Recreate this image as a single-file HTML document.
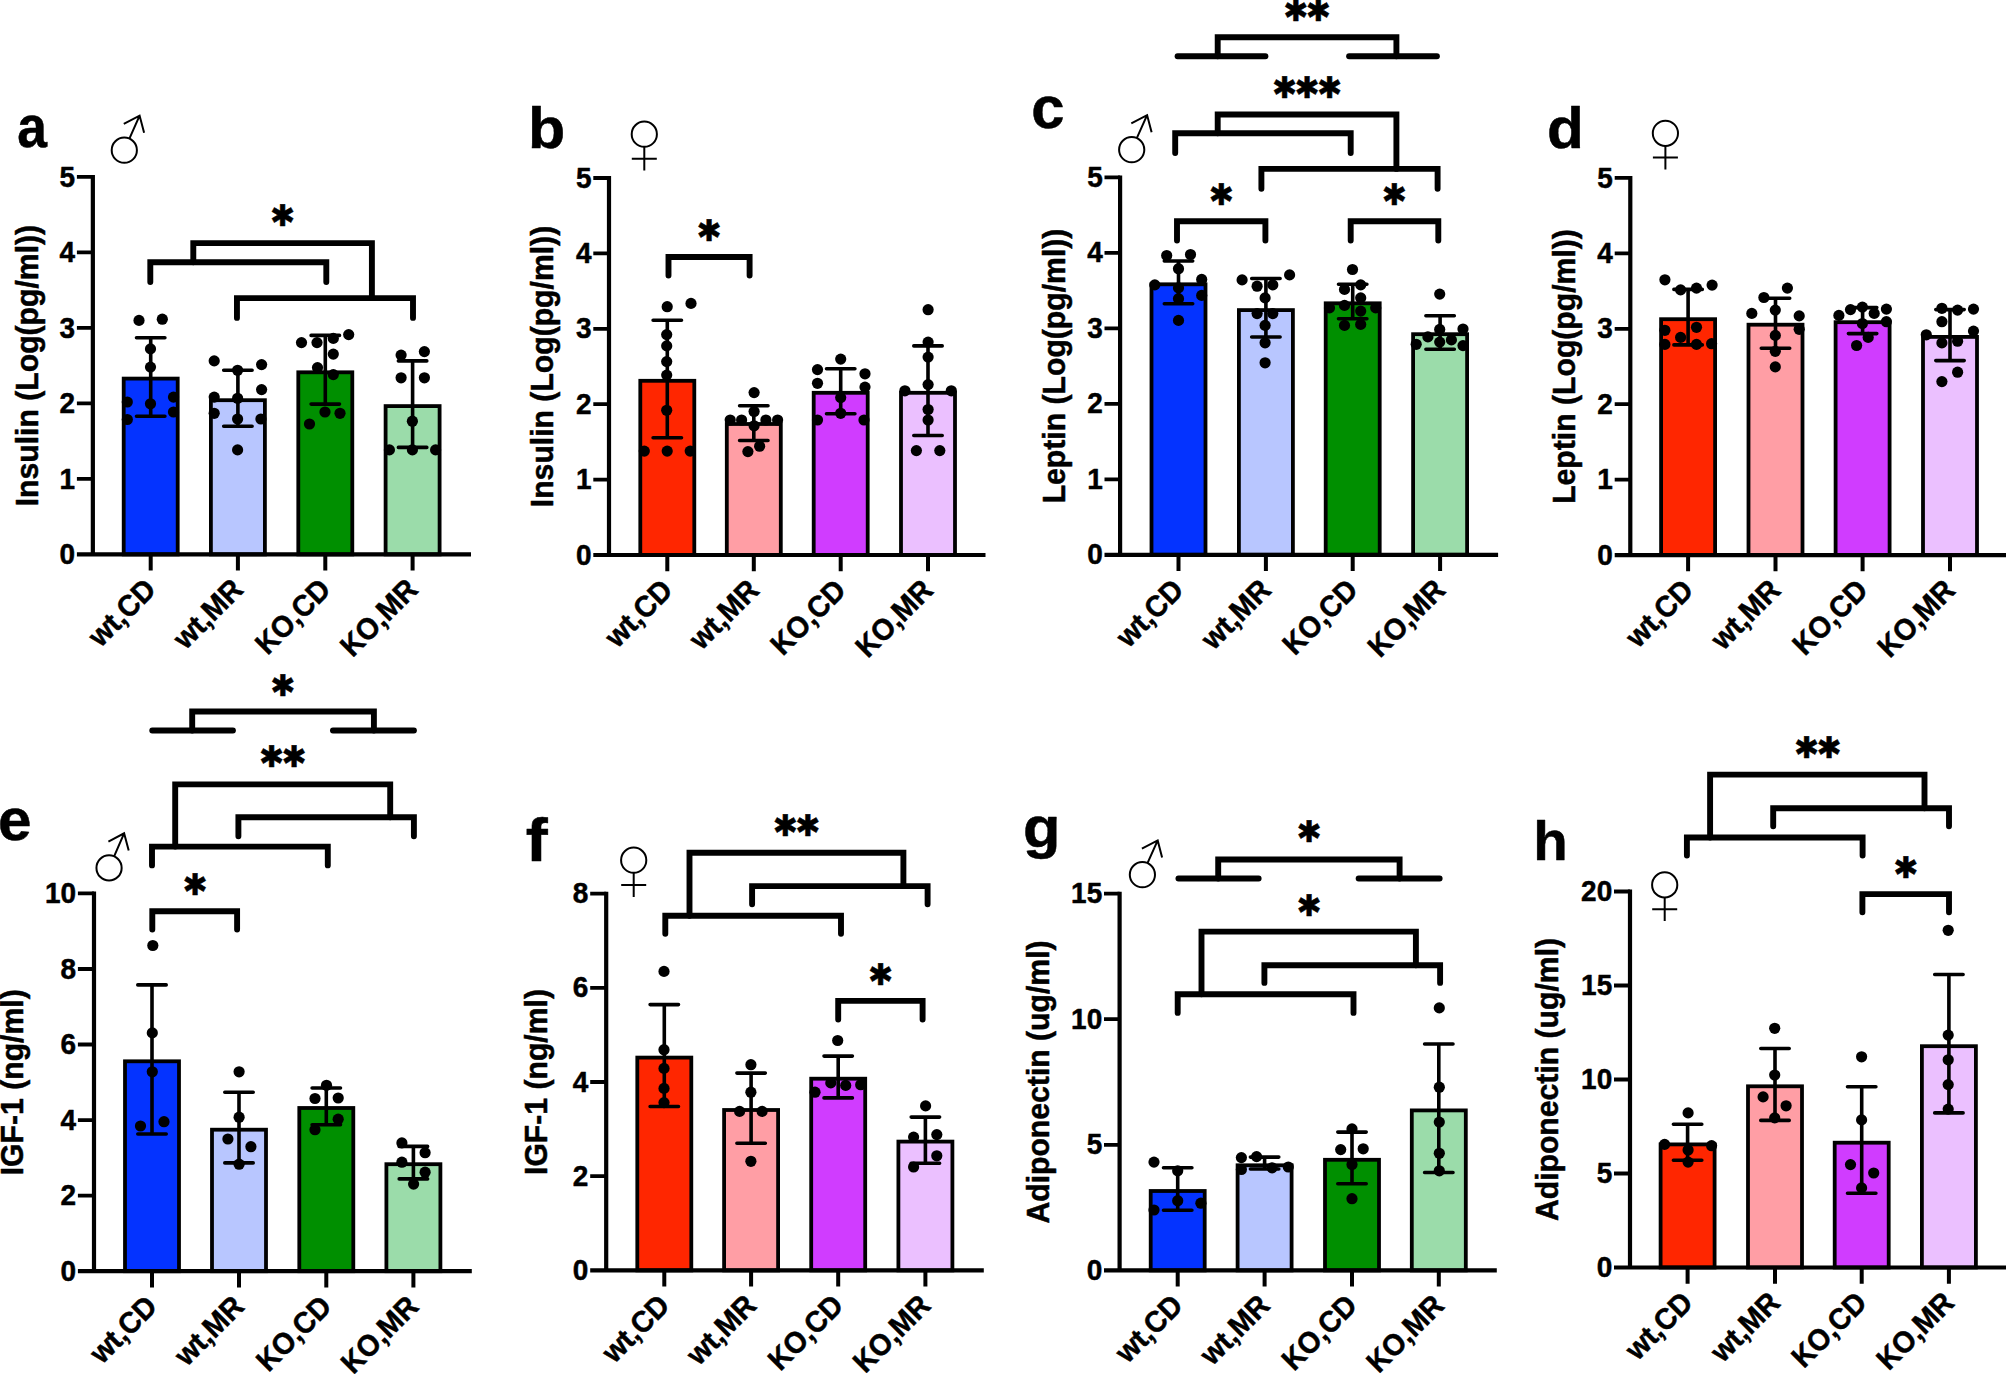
<!DOCTYPE html>
<html lang="en"><head><meta charset="utf-8"><title>Figure: hormone levels (panels a–h)</title>
<style>
html,body{margin:0;padding:0;background:#fff}
body{width:2006px;height:1374px;overflow:hidden}
svg{display:block;font-family:"Liberation Sans",sans-serif;font-weight:700;fill:#000}
text{stroke:#000;stroke-width:.5px;stroke-linejoin:round}
.bar{stroke:#000;stroke-width:3.8}
.axis{fill:none;stroke:#000;stroke-width:4.2;stroke-linecap:butt}
.tick{fill:none;stroke:#000;stroke-width:3.8}
.xtick{fill:none;stroke:#000;stroke-width:4}
.err{fill:none;stroke:#000;stroke-width:3.6;stroke-linecap:round}
.br{fill:none;stroke:#000;stroke-width:5.9;stroke-linecap:round;stroke-linejoin:miter}
.dot{fill:#000}
.tl{font-size:29.3px;text-anchor:end}
.xl{font-size:29.8px;text-anchor:end}
.yt{font-size:31.6px;text-anchor:middle}
.pl{font-size:58.5px}
.st{font-family:"DejaVu Sans",sans-serif;font-weight:400;font-size:30px}
.sx circle,.sx path{fill:none;stroke:#000;stroke-width:2}
</style></head>
<body>
<svg width="2006" height="1374" viewBox="0 0 2006 1374">
<rect width="100%" height="100%" fill="#fff"/>
<g id="panel-a">
<rect class="bar" x="123.7" y="378.6" width="54.0" height="175.8" fill="#0433ff"/>
<rect class="bar" x="210.9" y="400.2" width="54.0" height="154.2" fill="#b8c6ff"/>
<rect class="bar" x="298.3" y="372.3" width="54.0" height="182.1" fill="#008f00"/>
<rect class="bar" x="385.6" y="406.1" width="54.0" height="148.3" fill="#9bdcaa"/>
<path class="axis" d="M92.85 175.0V556.5M76.9 554.4H471.0"/>
<path class="tick" d="M76.9 478.9H92.85M76.9 403.4H92.85M76.9 327.9H92.85M76.9 252.4H92.85M76.9 176.9H92.85"/>
<path class="xtick" d="M150.7 554.4V570.6M237.9 554.4V570.6M325.3 554.4V570.6M412.6 554.4V570.6"/>
<text class="tl" transform="translate(75.1 564.0) scale(0.955 1)">0</text>
<text class="tl" transform="translate(75.1 488.5) scale(0.955 1)">1</text>
<text class="tl" transform="translate(75.1 413.0) scale(0.955 1)">2</text>
<text class="tl" transform="translate(75.1 337.5) scale(0.955 1)">3</text>
<text class="tl" transform="translate(75.1 262.0) scale(0.955 1)">4</text>
<text class="tl" transform="translate(75.1 186.5) scale(0.955 1)">5</text>
<path class="err" d="M150.7 337.7V416.2M136.5 337.7h28.4M136.5 416.2h28.4M237.9 370.3V426.3M223.7 370.3h28.4M223.7 426.3h28.4M325.3 335.4V404.1M311.1 335.4h28.4M311.1 404.1h28.4M412.6 360.9V447.4M398.4 360.9h28.4M398.4 447.4h28.4"/>
<circle class="dot" cx="139.0" cy="320.4" r="5.6"/>
<circle class="dot" cx="162.3" cy="319.2" r="5.6"/>
<circle class="dot" cx="150.5" cy="348.9" r="5.6"/>
<circle class="dot" cx="150.5" cy="367.1" r="5.6"/>
<circle class="dot" cx="127.3" cy="402.0" r="5.6"/>
<circle class="dot" cx="150.5" cy="403.8" r="5.6"/>
<circle class="dot" cx="173.5" cy="397.1" r="5.6"/>
<circle class="dot" cx="173.5" cy="412.0" r="5.6"/>
<circle class="dot" cx="127.3" cy="419.5" r="5.6"/>
<circle class="dot" cx="214.2" cy="360.9" r="5.6"/>
<circle class="dot" cx="261.6" cy="364.6" r="5.6"/>
<circle class="dot" cx="237.6" cy="370.3" r="5.6"/>
<circle class="dot" cx="261.6" cy="389.6" r="5.6"/>
<circle class="dot" cx="214.2" cy="397.1" r="5.6"/>
<circle class="dot" cx="237.6" cy="398.3" r="5.6"/>
<circle class="dot" cx="214.2" cy="413.3" r="5.6"/>
<circle class="dot" cx="237.6" cy="419.0" r="5.6"/>
<circle class="dot" cx="260.9" cy="419.0" r="5.6"/>
<circle class="dot" cx="237.6" cy="449.9" r="5.6"/>
<circle class="dot" cx="301.5" cy="342.6" r="5.6"/>
<circle class="dot" cx="317.0" cy="342.6" r="5.6"/>
<circle class="dot" cx="333.3" cy="338.4" r="5.6"/>
<circle class="dot" cx="348.7" cy="334.6" r="5.6"/>
<circle class="dot" cx="333.3" cy="354.1" r="5.6"/>
<circle class="dot" cx="317.5" cy="367.6" r="5.6"/>
<circle class="dot" cx="333.3" cy="374.6" r="5.6"/>
<circle class="dot" cx="325.0" cy="412.0" r="5.6"/>
<circle class="dot" cx="340.0" cy="413.3" r="5.6"/>
<circle class="dot" cx="309.5" cy="424.0" r="5.6"/>
<circle class="dot" cx="401.1" cy="355.1" r="5.6"/>
<circle class="dot" cx="424.4" cy="351.6" r="5.6"/>
<circle class="dot" cx="401.1" cy="377.8" r="5.6"/>
<circle class="dot" cx="424.4" cy="377.8" r="5.6"/>
<circle class="dot" cx="412.4" cy="421.2" r="5.6"/>
<circle class="dot" cx="389.4" cy="449.9" r="5.6"/>
<circle class="dot" cx="412.4" cy="449.9" r="5.6"/>
<circle class="dot" cx="435.6" cy="449.9" r="5.6"/>
<path class="br" d="M193.3 262.3V243.1H371.9V298.1"/>
<path class="br" d="M150.3 282.1V262.3H326.3V282.1"/>
<path class="br" d="M236.95 317.9V298.1H413V317.9"/>
<text class="st" x="270.1" y="226.0" letter-spacing="-2.64">✱</text>
<text class="xl" transform="translate(157.6 591.3) rotate(-45) scale(0.955 1)">wt,CD</text>
<text class="xl" transform="translate(244.8 591.3) rotate(-45) scale(0.955 1)">wt,MR</text>
<text class="xl" transform="translate(332.2 591.3) rotate(-45) scale(0.955 1)">KO,CD</text>
<text class="xl" transform="translate(419.5 591.3) rotate(-45) scale(0.955 1)">KO,MR</text>
<text class="yt" transform="translate(38.3 365.6) rotate(-90) scale(0.955 1)">Insulin (Log(pg/ml))</text>
<text class="pl" style="font-size:58.8px" transform="translate(17.2 147.3) scale(0.909 1)">a</text>
<g class="sx" role="img" aria-label="male ♂"><circle cx="124.3" cy="150.2" r="12.6"/><path d="M129.4 138.7L139.6 115.6M123.8 123.9L139.6 115.6L144.1 132.8"/></g>
</g>
<g id="panel-b">
<rect class="bar" x="640.3" y="380.8" width="54.0" height="174.2" fill="#ff2600"/>
<rect class="bar" x="726.8" y="424.0" width="54.0" height="131.0" fill="#ff9ea5"/>
<rect class="bar" x="813.7" y="392.8" width="54.0" height="162.2" fill="#d03cff"/>
<rect class="bar" x="901.0" y="392.8" width="54.0" height="162.2" fill="#ebc0ff"/>
<path class="axis" d="M609 176.1V557.1M593.3 555H985.5"/>
<path class="tick" d="M593.3 479.6H609M593.3 404.2H609M593.3 328.8H609M593.3 253.4H609M593.3 178.0H609"/>
<path class="xtick" d="M667.3 555V571.2M753.8 555V571.2M840.7 555V571.2M928.0 555V571.2"/>
<text class="tl" transform="translate(591.5 564.6) scale(0.955 1)">0</text>
<text class="tl" transform="translate(591.5 489.2) scale(0.955 1)">1</text>
<text class="tl" transform="translate(591.5 413.8) scale(0.955 1)">2</text>
<text class="tl" transform="translate(591.5 338.4) scale(0.955 1)">3</text>
<text class="tl" transform="translate(591.5 263.0) scale(0.955 1)">4</text>
<text class="tl" transform="translate(591.5 187.6) scale(0.955 1)">5</text>
<path class="err" d="M667.3 320.2V437.7M653.1 320.2h28.4M653.1 437.7h28.4M753.8 405.7V440.5M739.6 405.7h28.4M739.6 440.5h28.4M840.7 368.8V413.8M826.5 368.8h28.4M826.5 413.8h28.4M928.0 345.9V435.5M913.8 345.9h28.4M913.8 435.5h28.4"/>
<circle class="dot" cx="667.2" cy="306.7" r="5.6"/>
<circle class="dot" cx="691.0" cy="303.4" r="5.6"/>
<circle class="dot" cx="666.7" cy="334.6" r="5.6"/>
<circle class="dot" cx="666.7" cy="345.9" r="5.6"/>
<circle class="dot" cx="666.7" cy="361.6" r="5.6"/>
<circle class="dot" cx="666.7" cy="375.1" r="5.6"/>
<circle class="dot" cx="666.7" cy="410.3" r="5.6"/>
<circle class="dot" cx="644.3" cy="451.1" r="5.6"/>
<circle class="dot" cx="667.2" cy="451.1" r="5.6"/>
<circle class="dot" cx="690.2" cy="451.1" r="5.6"/>
<circle class="dot" cx="754.1" cy="392.6" r="5.6"/>
<circle class="dot" cx="754.1" cy="411.5" r="5.6"/>
<circle class="dot" cx="730.2" cy="420.0" r="5.6"/>
<circle class="dot" cx="741.6" cy="420.0" r="5.6"/>
<circle class="dot" cx="765.9" cy="420.0" r="5.6"/>
<circle class="dot" cx="777.6" cy="420.0" r="5.6"/>
<circle class="dot" cx="754.1" cy="425.8" r="5.6"/>
<circle class="dot" cx="759.6" cy="446.2" r="5.6"/>
<circle class="dot" cx="747.9" cy="451.6" r="5.6"/>
<circle class="dot" cx="840.7" cy="359.1" r="5.6"/>
<circle class="dot" cx="817.5" cy="369.6" r="5.6"/>
<circle class="dot" cx="865.0" cy="373.8" r="5.6"/>
<circle class="dot" cx="817.5" cy="383.3" r="5.6"/>
<circle class="dot" cx="865.0" cy="387.1" r="5.6"/>
<circle class="dot" cx="840.7" cy="397.6" r="5.6"/>
<circle class="dot" cx="840.7" cy="413.3" r="5.6"/>
<circle class="dot" cx="817.5" cy="420.0" r="5.6"/>
<circle class="dot" cx="864.0" cy="420.0" r="5.6"/>
<circle class="dot" cx="928.1" cy="309.7" r="5.6"/>
<circle class="dot" cx="928.1" cy="342.1" r="5.6"/>
<circle class="dot" cx="928.1" cy="357.1" r="5.6"/>
<circle class="dot" cx="928.1" cy="384.6" r="5.6"/>
<circle class="dot" cx="904.9" cy="390.8" r="5.6"/>
<circle class="dot" cx="951.3" cy="390.8" r="5.6"/>
<circle class="dot" cx="928.1" cy="409.5" r="5.6"/>
<circle class="dot" cx="928.1" cy="420.0" r="5.6"/>
<circle class="dot" cx="916.4" cy="450.6" r="5.6"/>
<circle class="dot" cx="939.8" cy="450.6" r="5.6"/>
<path class="br" d="M668.5 275.6V257H749.6V275.6"/>
<text class="st" x="696.6" y="240.5" letter-spacing="-2.64">✱</text>
<text class="xl" transform="translate(674.2 591.9) rotate(-45) scale(0.955 1)">wt,CD</text>
<text class="xl" transform="translate(760.7 591.9) rotate(-45) scale(0.955 1)">wt,MR</text>
<text class="xl" transform="translate(847.6 591.9) rotate(-45) scale(0.955 1)">KO,CD</text>
<text class="xl" transform="translate(934.9 591.9) rotate(-45) scale(0.955 1)">KO,MR</text>
<text class="yt" transform="translate(552.8 366.5) rotate(-90) scale(0.955 1)">Insulin (Log(pg/ml))</text>
<text class="pl" style="font-size:57.9px" transform="translate(527.9 147.8) scale(1.053 1)">b</text>
<g class="sx" role="img" aria-label="female ♀"><circle cx="644.3" cy="134.2" r="12.6"/><path d="M644.3 146.79999999999998V170.6M631.8 158.7H656.8"/></g>
</g>
<g id="panel-c">
<rect class="bar" x="1151.5" y="284.3" width="54.0" height="270.5" fill="#0433ff"/>
<rect class="bar" x="1238.9" y="310.1" width="54.0" height="244.7" fill="#b8c6ff"/>
<rect class="bar" x="1325.7" y="303.3" width="54.0" height="251.5" fill="#008f00"/>
<rect class="bar" x="1413.1" y="334.2" width="54.0" height="220.6" fill="#9bdcaa"/>
<path class="axis" d="M1120.1 175.4V556.9M1104.5 554.8H1498.1"/>
<path class="tick" d="M1104.5 479.3H1120.1M1104.5 403.8H1120.1M1104.5 328.3H1120.1M1104.5 252.8H1120.1M1104.5 177.3H1120.1"/>
<path class="xtick" d="M1178.5 554.8V571.0M1265.9 554.8V571.0M1352.7 554.8V571.0M1440.1 554.8V571.0"/>
<text class="tl" transform="translate(1102.7 564.4) scale(0.955 1)">0</text>
<text class="tl" transform="translate(1102.7 488.9) scale(0.955 1)">1</text>
<text class="tl" transform="translate(1102.7 413.4) scale(0.955 1)">2</text>
<text class="tl" transform="translate(1102.7 337.9) scale(0.955 1)">3</text>
<text class="tl" transform="translate(1102.7 262.4) scale(0.955 1)">4</text>
<text class="tl" transform="translate(1102.7 186.9) scale(0.955 1)">5</text>
<path class="err" d="M1178.5 261.0V303.7M1164.3 261.0h28.4M1164.3 303.7h28.4M1265.9 278.5V337.0M1251.7 278.5h28.4M1251.7 337.0h28.4M1352.7 284.2V318.8M1338.5 284.2h28.4M1338.5 318.8h28.4M1440.1 315.8V349.3M1425.9 315.8h28.4M1425.9 349.3h28.4"/>
<circle class="dot" cx="1166.7" cy="255.5" r="5.6"/>
<circle class="dot" cx="1190.5" cy="254.5" r="5.6"/>
<circle class="dot" cx="1178.5" cy="268.7" r="5.6"/>
<circle class="dot" cx="1154.8" cy="284.9" r="5.6"/>
<circle class="dot" cx="1201.7" cy="279.4" r="5.6"/>
<circle class="dot" cx="1178.5" cy="287.9" r="5.6"/>
<circle class="dot" cx="1178.5" cy="298.7" r="5.6"/>
<circle class="dot" cx="1201.7" cy="295.4" r="5.6"/>
<circle class="dot" cx="1178.5" cy="320.4" r="5.6"/>
<circle class="dot" cx="1242.1" cy="279.9" r="5.6"/>
<circle class="dot" cx="1289.6" cy="274.9" r="5.6"/>
<circle class="dot" cx="1257.1" cy="286.2" r="5.6"/>
<circle class="dot" cx="1272.8" cy="284.9" r="5.6"/>
<circle class="dot" cx="1265.1" cy="297.9" r="5.6"/>
<circle class="dot" cx="1257.1" cy="313.6" r="5.6"/>
<circle class="dot" cx="1272.8" cy="313.6" r="5.6"/>
<circle class="dot" cx="1265.1" cy="325.4" r="5.6"/>
<circle class="dot" cx="1265.1" cy="342.8" r="5.6"/>
<circle class="dot" cx="1265.1" cy="362.8" r="5.6"/>
<circle class="dot" cx="1352.5" cy="269.5" r="5.6"/>
<circle class="dot" cx="1344.5" cy="289.4" r="5.6"/>
<circle class="dot" cx="1360.7" cy="284.9" r="5.6"/>
<circle class="dot" cx="1360.7" cy="297.9" r="5.6"/>
<circle class="dot" cx="1329.5" cy="307.9" r="5.6"/>
<circle class="dot" cx="1344.5" cy="305.4" r="5.6"/>
<circle class="dot" cx="1360.7" cy="311.1" r="5.6"/>
<circle class="dot" cx="1375.7" cy="307.9" r="5.6"/>
<circle class="dot" cx="1344.5" cy="325.4" r="5.6"/>
<circle class="dot" cx="1360.7" cy="324.4" r="5.6"/>
<circle class="dot" cx="1439.7" cy="294.1" r="5.6"/>
<circle class="dot" cx="1439.7" cy="329.4" r="5.6"/>
<circle class="dot" cx="1463.0" cy="329.0" r="5.6"/>
<circle class="dot" cx="1427.9" cy="336.9" r="5.6"/>
<circle class="dot" cx="1439.7" cy="342.1" r="5.6"/>
<circle class="dot" cx="1451.4" cy="339.9" r="5.6"/>
<circle class="dot" cx="1416.2" cy="344.3" r="5.6"/>
<circle class="dot" cx="1463.0" cy="345.6" r="5.6"/>
<path class="br" d="M1217.7 56.3V37.2H1396.4V56.3"/>
<path class="br" d="M1177.6 56.3H1265.4"/>
<path class="br" d="M1349.1 56.3H1436.9"/>
<path class="br" d="M1217.7 133.3V114.5H1396.4V168.9"/>
<path class="br" d="M1175.2 153.1V133.3H1350.7V153.1"/>
<path class="br" d="M1261.4 188.8V168.9H1437.6V188.8"/>
<path class="br" d="M1177 240.5V221.3H1265.4V240.5"/>
<path class="br" d="M1350.7 240.5V221.3H1438.3V240.5"/>
<text class="st" x="1283.2" y="21.2" letter-spacing="-2.64">✱✱</text>
<text class="st" x="1271.9" y="97.7" letter-spacing="-2.64">✱✱✱</text>
<text class="st" x="1208.8" y="204.7" letter-spacing="-2.64">✱</text>
<text class="st" x="1381.8" y="204.7" letter-spacing="-2.64">✱</text>
<text class="xl" transform="translate(1185.4 591.7) rotate(-45) scale(0.955 1)">wt,CD</text>
<text class="xl" transform="translate(1272.8 591.7) rotate(-45) scale(0.955 1)">wt,MR</text>
<text class="xl" transform="translate(1359.6 591.7) rotate(-45) scale(0.955 1)">KO,CD</text>
<text class="xl" transform="translate(1447.0 591.7) rotate(-45) scale(0.955 1)">KO,MR</text>
<text class="yt" transform="translate(1065.4 366.0) rotate(-90) scale(0.955 1)">Leptin (Log(pg/ml))</text>
<text class="pl" style="font-size:59.0px" transform="translate(1031.2 127.6) scale(1.012 1)">c</text>
<g class="sx" role="img" aria-label="male ♂"><circle cx="1131.7" cy="149.7" r="12.6"/><path d="M1136.8 138.2L1147.1 115.1M1131.3 123.3L1147.1 115.1L1151.6 132.3"/></g>
</g>
<g id="panel-d">
<rect class="bar" x="1661.1" y="319.2" width="54.0" height="235.9" fill="#ff2600"/>
<rect class="bar" x="1748.5" y="324.7" width="54.0" height="230.4" fill="#ff9ea5"/>
<rect class="bar" x="1835.6" y="322.2" width="54.0" height="232.9" fill="#d03cff"/>
<rect class="bar" x="1923.0" y="336.9" width="54.0" height="218.2" fill="#ebc0ff"/>
<path class="axis" d="M1630.3 176.0V557.2M1614.7 555.1H2010.0"/>
<path class="tick" d="M1614.7 479.7H1630.3M1614.7 404.2H1630.3M1614.7 328.8H1630.3M1614.7 253.3H1630.3M1614.7 177.9H1630.3"/>
<path class="xtick" d="M1688.1 555.1V571.3M1775.5 555.1V571.3M1862.6 555.1V571.3M1950.0 555.1V571.3"/>
<text class="tl" transform="translate(1612.9 564.7) scale(0.955 1)">0</text>
<text class="tl" transform="translate(1612.9 489.3) scale(0.955 1)">1</text>
<text class="tl" transform="translate(1612.9 413.8) scale(0.955 1)">2</text>
<text class="tl" transform="translate(1612.9 338.4) scale(0.955 1)">3</text>
<text class="tl" transform="translate(1612.9 262.9) scale(0.955 1)">4</text>
<text class="tl" transform="translate(1612.9 187.5) scale(0.955 1)">5</text>
<path class="err" d="M1688.1 289.4V344.9M1673.9 289.4h28.4M1673.9 344.9h28.4M1775.5 298.2V348.2M1761.3 298.2h28.4M1761.3 348.2h28.4M1862.6 307.6V333.6M1848.4 307.6h28.4M1848.4 333.6h28.4M1950.0 309.6V360.6M1935.8 309.6h28.4M1935.8 360.6h28.4"/>
<circle class="dot" cx="1664.9" cy="279.8" r="5.6"/>
<circle class="dot" cx="1680.6" cy="289.9" r="5.6"/>
<circle class="dot" cx="1696.5" cy="288.1" r="5.6"/>
<circle class="dot" cx="1712.1" cy="285.1" r="5.6"/>
<circle class="dot" cx="1696.5" cy="327.3" r="5.6"/>
<circle class="dot" cx="1664.9" cy="330.3" r="5.6"/>
<circle class="dot" cx="1680.6" cy="337.4" r="5.6"/>
<circle class="dot" cx="1664.9" cy="344.4" r="5.6"/>
<circle class="dot" cx="1696.5" cy="344.4" r="5.6"/>
<circle class="dot" cx="1711.6" cy="343.7" r="5.6"/>
<circle class="dot" cx="1787.4" cy="288.1" r="5.6"/>
<circle class="dot" cx="1763.9" cy="297.5" r="5.6"/>
<circle class="dot" cx="1775.3" cy="310.1" r="5.6"/>
<circle class="dot" cx="1751.8" cy="313.4" r="5.6"/>
<circle class="dot" cx="1799.2" cy="315.9" r="5.6"/>
<circle class="dot" cx="1799.2" cy="329.3" r="5.6"/>
<circle class="dot" cx="1775.3" cy="335.4" r="5.6"/>
<circle class="dot" cx="1775.3" cy="351.3" r="5.6"/>
<circle class="dot" cx="1775.3" cy="366.9" r="5.6"/>
<circle class="dot" cx="1862.4" cy="307.1" r="5.6"/>
<circle class="dot" cx="1850.5" cy="309.6" r="5.6"/>
<circle class="dot" cx="1874.2" cy="313.4" r="5.6"/>
<circle class="dot" cx="1886.4" cy="309.1" r="5.6"/>
<circle class="dot" cx="1838.9" cy="315.4" r="5.6"/>
<circle class="dot" cx="1886.4" cy="321.7" r="5.6"/>
<circle class="dot" cx="1862.4" cy="323.5" r="5.6"/>
<circle class="dot" cx="1868.2" cy="337.4" r="5.6"/>
<circle class="dot" cx="1856.6" cy="345.5" r="5.6"/>
<circle class="dot" cx="1941.9" cy="308.3" r="5.6"/>
<circle class="dot" cx="1957.6" cy="310.1" r="5.6"/>
<circle class="dot" cx="1973.5" cy="309.1" r="5.6"/>
<circle class="dot" cx="1941.9" cy="321.7" r="5.6"/>
<circle class="dot" cx="1926.3" cy="334.8" r="5.6"/>
<circle class="dot" cx="1973.5" cy="331.1" r="5.6"/>
<circle class="dot" cx="1941.9" cy="342.9" r="5.6"/>
<circle class="dot" cx="1957.6" cy="341.2" r="5.6"/>
<circle class="dot" cx="1957.6" cy="372.2" r="5.6"/>
<circle class="dot" cx="1941.9" cy="381.6" r="5.6"/>
<text class="xl" transform="translate(1695.0 592.0) rotate(-45) scale(0.955 1)">wt,CD</text>
<text class="xl" transform="translate(1782.4 592.0) rotate(-45) scale(0.955 1)">wt,MR</text>
<text class="xl" transform="translate(1869.5 592.0) rotate(-45) scale(0.955 1)">KO,CD</text>
<text class="xl" transform="translate(1956.9 592.0) rotate(-45) scale(0.955 1)">KO,MR</text>
<text class="yt" transform="translate(1575.0 366.5) rotate(-90) scale(0.955 1)">Leptin (Log(pg/ml))</text>
<text class="pl" style="font-size:58.3px" transform="translate(1547.1 148.1) scale(1.035 1)">d</text>
<g class="sx" role="img" aria-label="female ♀"><circle cx="1665.4" cy="133.3" r="12.6"/><path d="M1665.4 145.9V169.4M1652.9 157.6H1677.9"/></g>
</g>
<g id="panel-e">
<rect class="bar" x="125.0" y="1061.3" width="54.0" height="209.9" fill="#0433ff"/>
<rect class="bar" x="212.0" y="1129.7" width="54.0" height="141.5" fill="#b8c6ff"/>
<rect class="bar" x="299.3" y="1108.0" width="54.0" height="163.2" fill="#008f00"/>
<rect class="bar" x="386.4" y="1164.2" width="54.0" height="107.0" fill="#9bdcaa"/>
<path class="axis" d="M94.0 891.5V1273.3M77.9 1271.2H471.8"/>
<path class="tick" d="M77.9 1195.6H94.0M77.9 1120.1H94.0M77.9 1044.5H94.0M77.9 969.0H94.0M77.9 893.4H94.0"/>
<path class="xtick" d="M152.0 1271.2V1287.4M239.0 1271.2V1287.4M326.3 1271.2V1287.4M413.4 1271.2V1287.4"/>
<text class="tl" transform="translate(76.1 1280.8) scale(0.955 1)">0</text>
<text class="tl" transform="translate(76.1 1205.2) scale(0.955 1)">2</text>
<text class="tl" transform="translate(76.1 1129.7) scale(0.955 1)">4</text>
<text class="tl" transform="translate(76.1 1054.1) scale(0.955 1)">6</text>
<text class="tl" transform="translate(76.1 978.6) scale(0.955 1)">8</text>
<text class="tl" transform="translate(76.1 903.0) scale(0.955 1)">10</text>
<path class="err" d="M152.0 984.9V1134.0M137.8 984.9h28.4M137.8 1134.0h28.4M239.0 1092.3V1162.9M224.8 1092.3h28.4M224.8 1162.9h28.4M326.3 1088.0V1124.7M312.1 1088.0h28.4M312.1 1124.7h28.4M413.4 1146.4V1178.9M399.2 1146.4h28.4M399.2 1178.9h28.4"/>
<circle class="dot" cx="152.8" cy="945.5" r="5.6"/>
<circle class="dot" cx="152.3" cy="1032.9" r="5.6"/>
<circle class="dot" cx="152.3" cy="1071.8" r="5.6"/>
<circle class="dot" cx="140.5" cy="1126.0" r="5.6"/>
<circle class="dot" cx="164.0" cy="1121.7" r="5.6"/>
<circle class="dot" cx="239.1" cy="1071.8" r="5.6"/>
<circle class="dot" cx="239.1" cy="1117.2" r="5.6"/>
<circle class="dot" cx="227.9" cy="1139.0" r="5.6"/>
<circle class="dot" cx="250.9" cy="1146.7" r="5.6"/>
<circle class="dot" cx="239.1" cy="1164.2" r="5.6"/>
<circle class="dot" cx="326.5" cy="1085.3" r="5.6"/>
<circle class="dot" cx="315.0" cy="1098.5" r="5.6"/>
<circle class="dot" cx="338.2" cy="1098.0" r="5.6"/>
<circle class="dot" cx="338.2" cy="1119.2" r="5.6"/>
<circle class="dot" cx="315.0" cy="1129.7" r="5.6"/>
<circle class="dot" cx="401.9" cy="1142.9" r="5.6"/>
<circle class="dot" cx="425.1" cy="1152.7" r="5.6"/>
<circle class="dot" cx="401.9" cy="1162.2" r="5.6"/>
<circle class="dot" cx="425.1" cy="1172.2" r="5.6"/>
<circle class="dot" cx="413.6" cy="1184.1" r="5.6"/>
<path class="br" d="M192.2 730.5V711.5H373.9V730.5"/>
<path class="br" d="M152.25 730.5H232.95"/>
<path class="br" d="M332.95 730.5H413.95"/>
<path class="br" d="M175.2 846.6V784.4H390.2V817.3"/>
<path class="br" d="M238.4 836.2V817.3H413.9V836.2"/>
<path class="br" d="M152 865.4V846.6H327.8V865.4"/>
<path class="br" d="M152.3 929.6V911.2H237.1V929.6"/>
<text class="st" x="270.2" y="695.7" letter-spacing="-2.64">✱</text>
<text class="st" x="259.0" y="767.4" letter-spacing="-2.64">✱✱</text>
<text class="st" x="182.6" y="894.7" letter-spacing="-2.64">✱</text>
<text class="xl" transform="translate(158.9 1308.1) rotate(-45) scale(0.955 1)">wt,CD</text>
<text class="xl" transform="translate(245.9 1308.1) rotate(-45) scale(0.955 1)">wt,MR</text>
<text class="xl" transform="translate(333.2 1308.1) rotate(-45) scale(0.955 1)">KO,CD</text>
<text class="xl" transform="translate(420.3 1308.1) rotate(-45) scale(0.955 1)">KO,MR</text>
<text class="yt" transform="translate(23.0 1082.3) rotate(-90) scale(0.955 1)">IGF-1 (ng/ml)</text>
<text class="pl" style="font-size:59.3px" transform="translate(-1.9 840.4) scale(1.016 1)">e</text>
<g class="sx" role="img" aria-label="male ♂"><circle cx="109.05" cy="867.9" r="12.6"/><path d="M114.1 856.3L124.1 833.3M108.4 841.7L124.1 833.3L128.7 850.5"/></g>
</g>
<g id="panel-f">
<rect class="bar" x="637.3" y="1057.6" width="54.0" height="212.8" fill="#ff2600"/>
<rect class="bar" x="724.1" y="1110.0" width="54.0" height="160.4" fill="#ff9ea5"/>
<rect class="bar" x="811.2" y="1078.7" width="54.0" height="191.7" fill="#d03cff"/>
<rect class="bar" x="898.4" y="1141.6" width="54.0" height="128.8" fill="#ebc0ff"/>
<path class="axis" d="M606.2 891.7V1272.5M590.2 1270.4H983.8"/>
<path class="tick" d="M590.2 1176.2H606.2M590.2 1082.0H606.2M590.2 987.8H606.2M590.2 893.6H606.2"/>
<path class="xtick" d="M664.3 1270.4V1286.6M751.1 1270.4V1286.6M838.2 1270.4V1286.6M925.4 1270.4V1286.6"/>
<text class="tl" transform="translate(588.4 1280.0) scale(0.955 1)">0</text>
<text class="tl" transform="translate(588.4 1185.8) scale(0.955 1)">2</text>
<text class="tl" transform="translate(588.4 1091.6) scale(0.955 1)">4</text>
<text class="tl" transform="translate(588.4 997.4) scale(0.955 1)">6</text>
<text class="tl" transform="translate(588.4 903.2) scale(0.955 1)">8</text>
<path class="err" d="M664.3 1004.6V1106.5M650.1 1004.6h28.4M650.1 1106.5h28.4M751.1 1073.1V1143.3M736.9 1073.1h28.4M736.9 1143.3h28.4M838.2 1056.1V1097.9M824.0 1056.1h28.4M824.0 1097.9h28.4M925.4 1117.1V1163.3M911.2 1117.1h28.4M911.2 1163.3h28.4"/>
<circle class="dot" cx="664.0" cy="971.4" r="5.6"/>
<circle class="dot" cx="664.0" cy="1049.7" r="5.6"/>
<circle class="dot" cx="664.0" cy="1068.4" r="5.6"/>
<circle class="dot" cx="664.0" cy="1088.4" r="5.6"/>
<circle class="dot" cx="664.0" cy="1102.6" r="5.6"/>
<circle class="dot" cx="750.9" cy="1064.7" r="5.6"/>
<circle class="dot" cx="750.9" cy="1092.2" r="5.6"/>
<circle class="dot" cx="739.6" cy="1111.4" r="5.6"/>
<circle class="dot" cx="762.1" cy="1111.4" r="5.6"/>
<circle class="dot" cx="750.9" cy="1161.3" r="5.6"/>
<circle class="dot" cx="837.7" cy="1040.5" r="5.6"/>
<circle class="dot" cx="830.8" cy="1082.9" r="5.6"/>
<circle class="dot" cx="845.7" cy="1085.4" r="5.6"/>
<circle class="dot" cx="815.0" cy="1092.2" r="5.6"/>
<circle class="dot" cx="860.7" cy="1084.7" r="5.6"/>
<circle class="dot" cx="925.6" cy="1105.9" r="5.6"/>
<circle class="dot" cx="913.6" cy="1137.1" r="5.6"/>
<circle class="dot" cx="936.8" cy="1134.6" r="5.6"/>
<circle class="dot" cx="936.8" cy="1155.8" r="5.6"/>
<circle class="dot" cx="913.6" cy="1167.0" r="5.6"/>
<path class="br" d="M689.5 915.7V852.8H903.4V886.1"/>
<path class="br" d="M752.1 904.3V886.1H927.6V904.3"/>
<path class="br" d="M665.3 933.8V915.7H841V933.8"/>
<path class="br" d="M838.2 1019.6V1000.9H922.6V1019.6"/>
<text class="st" x="772.8" y="836.2" letter-spacing="-2.64">✱✱</text>
<text class="st" x="868.1" y="985.2" letter-spacing="-2.64">✱</text>
<text class="xl" transform="translate(671.2 1307.3) rotate(-45) scale(0.955 1)">wt,CD</text>
<text class="xl" transform="translate(758.0 1307.3) rotate(-45) scale(0.955 1)">wt,MR</text>
<text class="xl" transform="translate(845.1 1307.3) rotate(-45) scale(0.955 1)">KO,CD</text>
<text class="xl" transform="translate(932.3 1307.3) rotate(-45) scale(0.955 1)">KO,MR</text>
<text class="yt" transform="translate(547.4 1082.0) rotate(-90) scale(0.955 1)">IGF-1 (ng/ml)</text>
<text class="pl" style="font-size:60.3px" transform="translate(525.8 860.9) scale(1.095 1)">f</text>
<g class="sx" role="img" aria-label="female ♀"><circle cx="633.7" cy="860.2" r="12.6"/><path d="M633.7 872.8000000000001V896.9M621.2 884.9H646.2"/></g>
</g>
<g id="panel-g">
<rect class="bar" x="1150.7" y="1191.0" width="54.0" height="79.4" fill="#0433ff"/>
<rect class="bar" x="1237.6" y="1165.3" width="54.0" height="105.1" fill="#b8c6ff"/>
<rect class="bar" x="1325.0" y="1159.8" width="54.0" height="110.6" fill="#008f00"/>
<rect class="bar" x="1411.8" y="1110.4" width="54.0" height="160.0" fill="#9bdcaa"/>
<path class="axis" d="M1119.6 891.7V1272.5M1104.0 1270.4H1496.8"/>
<path class="tick" d="M1104.0 1144.8H1119.6M1104.0 1019.2H1119.6M1104.0 893.6H1119.6"/>
<path class="xtick" d="M1177.7 1270.4V1286.6M1264.6 1270.4V1286.6M1352.0 1270.4V1286.6M1438.8 1270.4V1286.6"/>
<text class="tl" transform="translate(1102.2 1280.0) scale(0.955 1)">0</text>
<text class="tl" transform="translate(1102.2 1154.4) scale(0.955 1)">5</text>
<text class="tl" transform="translate(1102.2 1028.8) scale(0.955 1)">10</text>
<text class="tl" transform="translate(1102.2 903.2) scale(0.955 1)">15</text>
<path class="err" d="M1177.7 1167.8V1210.2M1163.5 1167.8h28.4M1163.5 1210.2h28.4M1264.6 1157.1V1169.0M1250.4 1157.1h28.4M1250.4 1169.0h28.4M1352.0 1132.1V1183.8M1337.8 1132.1h28.4M1337.8 1183.8h28.4M1438.8 1044.0V1172.5M1424.6 1044.0h28.4M1424.6 1172.5h28.4"/>
<circle class="dot" cx="1154.0" cy="1162.1" r="5.6"/>
<circle class="dot" cx="1177.7" cy="1170.8" r="5.6"/>
<circle class="dot" cx="1177.7" cy="1200.7" r="5.6"/>
<circle class="dot" cx="1200.9" cy="1203.2" r="5.6"/>
<circle class="dot" cx="1154.0" cy="1210.0" r="5.6"/>
<circle class="dot" cx="1241.4" cy="1157.6" r="5.6"/>
<circle class="dot" cx="1256.6" cy="1156.6" r="5.6"/>
<circle class="dot" cx="1288.3" cy="1167.0" r="5.6"/>
<circle class="dot" cx="1241.4" cy="1169.5" r="5.6"/>
<circle class="dot" cx="1272.1" cy="1167.8" r="5.6"/>
<circle class="dot" cx="1352.0" cy="1128.9" r="5.6"/>
<circle class="dot" cx="1340.7" cy="1149.6" r="5.6"/>
<circle class="dot" cx="1363.2" cy="1148.8" r="5.6"/>
<circle class="dot" cx="1352.0" cy="1164.5" r="5.6"/>
<circle class="dot" cx="1352.0" cy="1198.7" r="5.6"/>
<circle class="dot" cx="1439.3" cy="1087.2" r="5.6"/>
<circle class="dot" cx="1439.3" cy="1122.1" r="5.6"/>
<circle class="dot" cx="1439.3" cy="1153.3" r="5.6"/>
<circle class="dot" cx="1439.3" cy="1170.8" r="5.6"/>
<circle class="dot" cx="1439.3" cy="1007.9" r="5.6"/>
<path class="br" d="M1218.2 878.5V859.5H1399.6V878.5"/>
<path class="br" d="M1178.45 878.5H1258.65"/>
<path class="br" d="M1358.65 878.5H1439.65"/>
<path class="br" d="M1201.5 994.3V931.6H1415.9V965.3"/>
<path class="br" d="M1264.4 982.9V965.3H1440.1V982.9"/>
<path class="br" d="M1177.7 1012.9V994.3H1353.5V1012.9"/>
<text class="st" x="1296.4" y="842.4" letter-spacing="-2.64">✱</text>
<text class="st" x="1296.4" y="916.0" letter-spacing="-2.64">✱</text>
<text class="xl" transform="translate(1184.6 1307.3) rotate(-45) scale(0.955 1)">wt,CD</text>
<text class="xl" transform="translate(1271.5 1307.3) rotate(-45) scale(0.955 1)">wt,MR</text>
<text class="xl" transform="translate(1358.9 1307.3) rotate(-45) scale(0.955 1)">KO,CD</text>
<text class="xl" transform="translate(1445.7 1307.3) rotate(-45) scale(0.955 1)">KO,MR</text>
<text class="yt" transform="translate(1048.7 1082.0) rotate(-90) scale(0.955 1)">Adiponectin (ug/ml)</text>
<text class="pl" style="font-size:58.0px" transform="translate(1023.1 847.4) scale(1.057 1)">g</text>
<g class="sx" role="img" aria-label="male ♂"><circle cx="1142.4" cy="874.7" r="12.6"/><path d="M1147.5 863.2L1157.7 840.4M1141.9 848.6L1157.7 840.4L1162.1 857.6"/></g>
</g>
<g id="panel-h">
<rect class="bar" x="1660.6" y="1144.4" width="54.0" height="123.1" fill="#ff2600"/>
<rect class="bar" x="1748.0" y="1086.3" width="54.0" height="181.2" fill="#ff9ea5"/>
<rect class="bar" x="1834.7" y="1142.7" width="54.0" height="124.8" fill="#d03cff"/>
<rect class="bar" x="1921.9" y="1046.2" width="54.0" height="221.3" fill="#ebc0ff"/>
<path class="axis" d="M1630 889.6V1269.6M1614.0 1267.5H2010.0"/>
<path class="tick" d="M1614.0 1173.5H1630M1614.0 1079.5H1630M1614.0 985.5H1630M1614.0 891.5H1630"/>
<path class="xtick" d="M1687.6 1267.5V1283.7M1775.0 1267.5V1283.7M1861.7 1267.5V1283.7M1948.9 1267.5V1283.7"/>
<text class="tl" transform="translate(1612.2 1277.1) scale(0.955 1)">0</text>
<text class="tl" transform="translate(1612.2 1183.1) scale(0.955 1)">5</text>
<text class="tl" transform="translate(1612.2 1089.1) scale(0.955 1)">10</text>
<text class="tl" transform="translate(1612.2 995.1) scale(0.955 1)">15</text>
<text class="tl" transform="translate(1612.2 901.1) scale(0.955 1)">20</text>
<path class="err" d="M1687.6 1124.2V1160.3M1673.4 1124.2h28.4M1673.4 1160.3h28.4M1775.0 1048.5V1120.4M1760.8 1048.5h28.4M1760.8 1120.4h28.4M1861.7 1086.8V1193.2M1847.5 1086.8h28.4M1847.5 1193.2h28.4M1948.9 974.5V1112.9M1934.7 974.5h28.4M1934.7 1112.9h28.4"/>
<circle class="dot" cx="1688.1" cy="1112.9" r="5.6"/>
<circle class="dot" cx="1664.6" cy="1144.4" r="5.6"/>
<circle class="dot" cx="1711.6" cy="1145.7" r="5.6"/>
<circle class="dot" cx="1688.1" cy="1150.0" r="5.6"/>
<circle class="dot" cx="1688.1" cy="1162.1" r="5.6"/>
<circle class="dot" cx="1774.7" cy="1028.3" r="5.6"/>
<circle class="dot" cx="1774.7" cy="1075.0" r="5.6"/>
<circle class="dot" cx="1763.1" cy="1096.9" r="5.6"/>
<circle class="dot" cx="1786.1" cy="1105.8" r="5.6"/>
<circle class="dot" cx="1774.7" cy="1117.9" r="5.6"/>
<circle class="dot" cx="1861.6" cy="1056.8" r="5.6"/>
<circle class="dot" cx="1861.6" cy="1119.9" r="5.6"/>
<circle class="dot" cx="1850.5" cy="1164.6" r="5.6"/>
<circle class="dot" cx="1873.7" cy="1173.0" r="5.6"/>
<circle class="dot" cx="1861.6" cy="1187.9" r="5.6"/>
<circle class="dot" cx="1948.2" cy="1035.1" r="5.6"/>
<circle class="dot" cx="1948.2" cy="1059.8" r="5.6"/>
<circle class="dot" cx="1948.2" cy="1084.6" r="5.6"/>
<circle class="dot" cx="1948.2" cy="1109.1" r="5.6"/>
<circle class="dot" cx="1948.2" cy="930.3" r="5.6"/>
<path class="br" d="M1710.1 837.5V774.6H1924.5V808.2"/>
<path class="br" d="M1773.2 826.3V808.2H1949V826.3"/>
<path class="br" d="M1686.9 855.6V837.5H1862.6V855.6"/>
<path class="br" d="M1862.4 912.2V894.1H1949V912.2"/>
<text class="st" x="1793.9" y="758.0" letter-spacing="-2.64">✱✱</text>
<text class="st" x="1893.2" y="878.4" letter-spacing="-2.64">✱</text>
<text class="xl" transform="translate(1694.5 1304.4) rotate(-45) scale(0.955 1)">wt,CD</text>
<text class="xl" transform="translate(1781.9 1304.4) rotate(-45) scale(0.955 1)">wt,MR</text>
<text class="xl" transform="translate(1868.6 1304.4) rotate(-45) scale(0.955 1)">KO,CD</text>
<text class="xl" transform="translate(1955.8 1304.4) rotate(-45) scale(0.955 1)">KO,MR</text>
<text class="yt" transform="translate(1558.1 1079.5) rotate(-90) scale(0.955 1)">Adiponectin (ug/ml)</text>
<text class="pl" style="font-size:54.8px" transform="translate(1533.2 859.7) scale(1.029 1)">h</text>
<g class="sx" role="img" aria-label="female ♀"><circle cx="1664.7" cy="884.9" r="12.6"/><path d="M1664.7 897.5V921.1M1652.2 909.2H1677.2"/></g>
</g>
</svg>
</body></html>
